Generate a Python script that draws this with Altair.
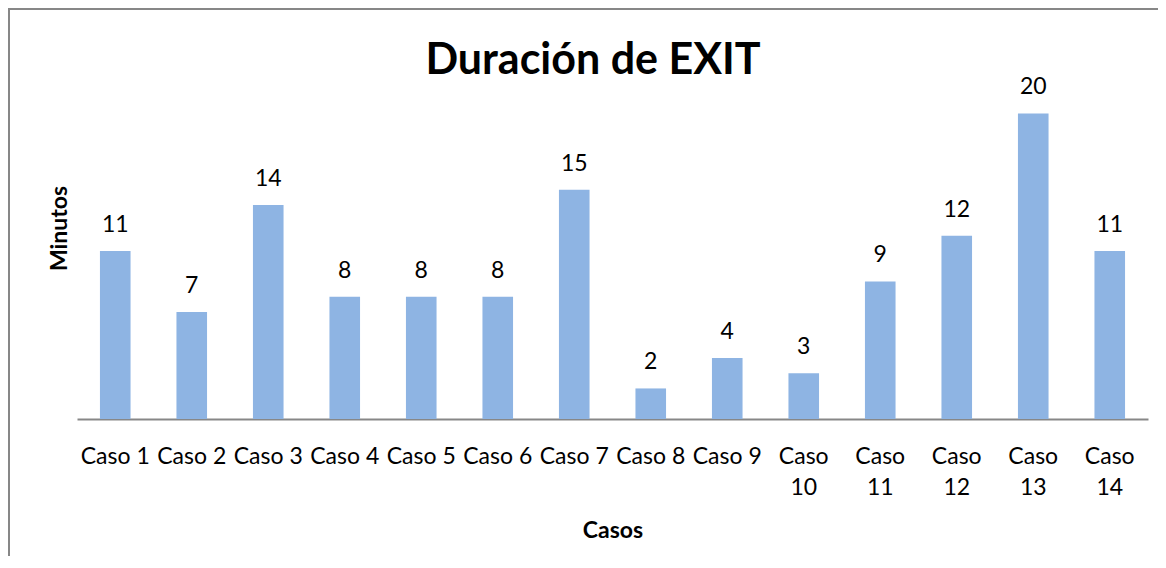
import altair as alt
import pandas as pd

cases = ["Caso 1", "Caso 2", "Caso 3", "Caso 4", "Caso 5", "Caso 6", "Caso 7",
         "Caso 8", "Caso 9", "Caso 10", "Caso 11", "Caso 12", "Caso 13", "Caso 14"]
minutes = [11, 7, 14, 8, 8, 8, 15, 2, 4, 3, 9, 12, 20, 11]
chart_title = ["Duración de EXIT"]

df = pd.DataFrame({"caso": cases, "minutos": minutes})

FONT = "Lato"
BAR = "#8EB4E3"
GRAY = "#878787"

W, H = 1071, 382
PL, PT = 69, 29

x_enc = alt.X(
    "caso:N", sort=cases, title="Casos",
    scale=alt.Scale(paddingInner=0.6, paddingOuter=0.3),
    axis=alt.Axis(
        labelAngle=0, labelOverlap=False,
        labelExpr="length(datum.label) > 6 ? split(datum.label, ' ') : datum.label",
        labelFont=FONT, labelFontSize=23, labelColor="black", labelPadding=26,
        labelLineHeight=31, ticks=False, domainColor=GRAY, domainWidth=2,
        titleFont=FONT, titleFontSize=23, titleFontWeight="bold", titleColor="black",
        titlePadding=20,
    ),
)
y_enc = alt.Y(
    "minutos:Q", title="Minutos",
    scale=alt.Scale(domain=[0, 25]),
    axis=alt.Axis(labels=False, ticks=False, domain=False, grid=False,
                  titleFont=FONT, titleFontSize=23, titleFontWeight="bold",
                  titleColor="black", titlePadding=6),
)

base = alt.Chart(df)
bars = base.mark_bar(color=BAR).encode(x=x_enc, y=y_enc)
labels = base.mark_text(dy=-19, baseline="alphabetic", font=FONT, fontSize=23,
                        color="black").encode(x=x_enc, y=y_enc, text="minutos:Q")

one = alt.Chart(pd.DataFrame({"t": chart_title}))
title = one.mark_text(font=FONT, fontSize=43, fontWeight="bold", color="black",
                      baseline="alphabetic", align="center").encode(
    x=alt.value(516), y=alt.value(37), text="t:N")
top_border = one.mark_rule(color=GRAY, strokeWidth=2).encode(
    x=alt.value(-PL), x2=alt.value(W + 20), y=alt.value(-PT + 1))
left_border = one.mark_rule(color=GRAY, strokeWidth=2).encode(
    x=alt.value(-PL + 1), y=alt.value(-PT), y2=alt.value(H + 200))

chart = alt.layer(bars, labels, title, top_border, left_border).properties(
    width=W, height=H,
    autosize=alt.AutoSizeParams(type="none"),
    padding={"left": PL, "top": PT, "right": 10, "bottom": 137},
    background="white",
).configure_view(stroke=None)

chart.save("out.html", embed_options={"renderer": "svg", "actions": False})
